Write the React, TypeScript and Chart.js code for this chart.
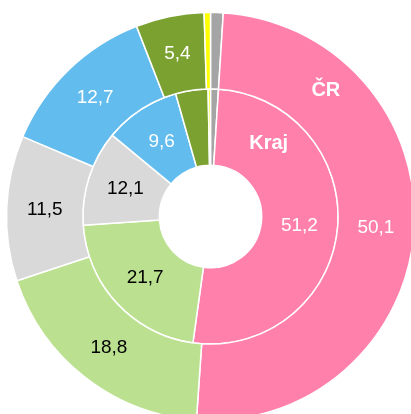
import React, { useEffect, useRef } from "react";
import { Chart, registerables } from "chart.js";

Chart.register(...registerables);

const categories = ["Ostatní 1", "Kategorie A", "Kategorie B", "Kategorie C", "Kategorie D", "Kategorie E", "Ostatní 2"];
const crValues = [1.0, 50.1, 18.8, 11.5, 12.7, 5.4, 0.5];
const krajValues = [1.0, 51.2, 21.7, 12.1, 9.6, 4.1, 0.3];
const seriesNames = ["ČR", "Kraj"];
const colors = ["#A5A5A5", "#FF80AB", "#BBE190", "#D9D9D9", "#63BCEE", "#7BA230", "#FFFF00"];
const labelColors = ["#fff", "#fff", "#000", "#000", "#fff", "#fff", "#000"];
const minLabelValue = 5;

const labelPlugin = {
  id: "ringLabels",
  afterDatasetsDraw(chart: any) {
    const ctx = chart.ctx;
    ctx.save();
    ctx.textAlign = "center";
    ctx.textBaseline = "middle";
    chart.data.datasets.forEach((ds: any, di: number) => {
      const meta = chart.getDatasetMeta(di);
      meta.data.forEach((arc: any, i: number) => {
        const v = ds.data[i];
        if (v < minLabelValue) return;
        const pos = arc.tooltipPosition();
        ctx.font = "19px 'Liberation Sans', Arial, sans-serif";
        ctx.fillStyle = labelColors[i];
        ctx.fillText(v.toFixed(1).replace(".", ","), pos.x, pos.y);
      });
      // series name inside the largest slice
      const big = meta.data[1];
      const p = big.getProps(["x", "y", "startAngle", "endAngle", "innerRadius", "outerRadius"], true);
      const frac = di === 0 ? 0.215 : 0.19;
      const rf = di === 0 ? 0.57 : 0.55;
      const a = p.startAngle + (p.endAngle - p.startAngle) * frac;
      const r = p.innerRadius + (p.outerRadius - p.innerRadius) * rf;
      ctx.font = "bold 20px 'Liberation Sans', Arial, sans-serif";
      ctx.fillStyle = "#fff";
      ctx.fillText(seriesNames[di], p.x + Math.cos(a) * r, p.y + Math.sin(a) * r);
    });
    ctx.restore();
  },
};

export default function App() {
  const ref = useRef<HTMLCanvasElement | null>(null);
  useEffect(() => {
    if (!ref.current) return;
    const chart = new Chart(ref.current, {
      type: "doughnut",
      data: {
        labels: categories,
        datasets: [
          { label: seriesNames[0], data: crValues, backgroundColor: colors, borderColor: "#fff", borderWidth: 1.5 },
          { label: seriesNames[1], data: krajValues, backgroundColor: colors, borderColor: "#fff", borderWidth: 1.5 },
        ],
      },
      options: {
        animation: false,
        responsive: true,
        maintainAspectRatio: false,
        radius: 204,
        cutout: "25.1%",
        hoverOffset: 0,
        layout: { padding: { left: 10, top: 19, right: 0, bottom: 0 } },
        plugins: { legend: { display: false }, tooltip: { enabled: false } },
      } as any,
      plugins: [labelPlugin],
    });
    return () => chart.destroy();
  }, []);
  return (
    <div style={{ position: "absolute", left: 0, top: 0, width: 411, height: 414, background: "#fff", overflow: "hidden" }}>
      <canvas ref={ref} />
    </div>
  );
}
